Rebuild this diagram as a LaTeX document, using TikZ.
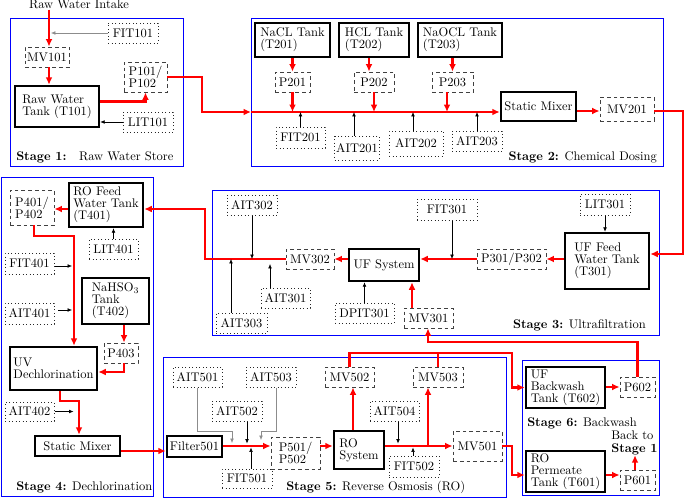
\documentclass[tikz,border=0pt]{standalone}
\usetikzlibrary{arrows.meta,calc}
\newcommand\mybox[7]{\node[#2, minimum width={0.8pt*(#5-#3)}, minimum height={0.8pt*(#6-#4)}] (#1) at ({(#3+#5)/2},{(#4+#6)/2}) {#7};}
\begin{document}
\begin{tikzpicture}[x=0.8pt,y=-0.8pt,
  stagebox/.style={draw=blue, line width=0.8pt},
  tank/.style={draw, line width=2pt, inner sep=1pt, align=left, font=\fontsize{10}{9.6}\selectfont},
  act/.style={draw=black!75, line width=0.65pt, dash pattern=on 3pt off 2.4pt, inner sep=1pt, align=left, font=\fontsize{10}{9.6}\selectfont},
  sens/.style={draw=black!85, line width=0.8pt, dotted, inner sep=1pt},
  flow/.style={draw=red, line width=2pt, -{Latex[length=6pt,width=5.5pt]}},
  flowline/.style={draw=red, line width=2pt},
  sig/.style={draw=black, line width=0.5pt, -{Latex[length=3.5pt,width=3pt]}},
  gsig/.style={sig, draw=black!45},
  lbl/.style={inner sep=0pt},
]
\useasboundingbox (0,0) rectangle (685,499);
% stage frames
\draw[stagebox] (10,18) rectangle (183,166);
\draw[stagebox] (251,18) rectangle (663,166);
\draw[stagebox] (212,190) rectangle (659,335);
\draw[stagebox] (1,177) rectangle (153,496);
\draw[stagebox] (163,357) rectangle (506,497);
\draw[stagebox] (522,360) rectangle (659,495);

% Stage 1
\node[lbl, anchor=base] (intake) at (79,9) {Raw Water Intake};
\mybox{FIT101}{sens}{108}{23}{158}{43}{FIT101}
\mybox{MV101}{act}{25}{47}{69}{67}{MV101}
\mybox{T101}{tank}{15}{86}{99}{127}{Raw Water\\Tank (T101)}
\mybox{P101}{act}{124}{62}{167}{92}{P101/\\P102}
\mybox{LIT101}{sens}{123}{112}{173}{132}{LIT101}
\node[lbl, anchor=base west] (s1) at (16,160) {\textbf{Stage 1:}\quad Raw Water Store};

% Stage 2
\mybox{T201}{tank}{255}{23}{330}{57}{NaCL Tank\\(T201)}
\mybox{T202}{tank}{339}{23}{409}{57}{HCL Tank\\(T202)}
\mybox{T203}{tank}{418}{23}{502}{57}{NaOCL Tank\\(T203)}
\mybox{P201}{act}{275}{72}{310}{92}{P201}
\mybox{P202}{act}{354}{72}{394}{92}{P202}
\mybox{P203}{act}{432}{72}{473}{92}{P203}
\mybox{SM2}{tank}{501}{92}{576}{121}{Static Mixer}
\mybox{MV201}{act}{600}{97}{654}{121}{MV201}
\mybox{FIT201}{sens}{276}{127}{325}{148}{FIT201}
\mybox{AIT201}{sens}{335}{136}{379}{160}{AIT201}
\mybox{AIT202}{sens}{389}{131}{443}{156}{AIT202}
\mybox{AIT203}{sens}{452}{131}{502}{151}{AIT203}
\node[lbl, anchor=base east] (s2) at (657,160) {\textbf{Stage 2:} Chemical Dosing};

% Stage 3
\mybox{T301}{tank}{565}{233}{649}{289}{UF Feed\\Water Tank\\(T301)}
\mybox{LIT301}{sens}{580}{194}{630}{215}{LIT301}
\mybox{P301}{act}{477}{249}{546}{269}{P301/P302}
\mybox{FIT301}{sens}{417}{199}{477}{220}{FIT301}
\mybox{UF}{tank}{349}{249}{419}{281}{UF System}
\mybox{MV302}{act}{286}{249}{334}{269}{MV302}
\mybox{AIT302}{sens}{227}{195}{277}{215}{AIT302}
\mybox{AIT301}{sens}{261}{288}{310}{308}{AIT301}
\mybox{AIT303}{sens}{216}{313}{267}{333}{AIT303}
\mybox{DPIT301}{sens}{335}{303}{394}{323}{DPIT301}
\mybox{MV301}{act}{404}{308}{453}{328}{MV301}
\node[lbl, anchor=base east] (s3) at (646,328) {\textbf{Stage 3:} Ultrafiltration};

% Stage 4
\mybox{T401}{tank}{69}{183}{143}{227}{RO Feed\\Water Tank\\(T401)}
\mybox{P401}{act}{10}{190}{54}{225}{P401/\\P402}
\mybox{LIT401}{sens}{89}{239}{138}{259}{LIT401}
\mybox{FIT401}{sens}{5}{253}{54}{274}{FIT401}
\mybox{AIT401}{sens}{5}{303}{54}{324}{AIT401}
\mybox{T402}{tank}{82}{278}{149}{324}{NaHSO$_3$\\Tank\\(T402)}
\mybox{P403}{act}{104}{343}{138}{363}{P403}
\mybox{UV}{tank}{10}{347}{97}{390}{UV\\Dechlorination}
\mybox{AIT402}{sens}{5}{402}{54}{421}{AIT402}
\mybox{SM4}{tank}{35}{436}{120}{456}{Static Mixer}
\node[lbl, anchor=base west] (s4) at (16,490) {\textbf{Stage 4:} Dechlorination};

% Stage 5
\mybox{F501}{tank, inner sep=0pt}{167}{436}{222}{457}{Filter501}
\mybox{P501}{act}{271}{437}{320}{469}{P501/\\P502}
\mybox{RO}{tank}{334}{431}{384}{469}{RO\\System}
\mybox{MV502}{act}{325}{367}{374}{387}{MV502}
\mybox{MV503}{act}{413}{367}{463}{387}{MV503}
\mybox{MV501}{act}{453}{431}{502}{461}{MV501}
\mybox{AIT501}{sens}{173}{367}{222}{387}{AIT501}
\mybox{AIT502}{sens}{212}{401}{262}{421}{AIT502}
\mybox{AIT503}{sens}{246}{367}{296}{387}{AIT503}
\mybox{FIT501}{sens}{222}{469}{272}{488}{FIT501}
\mybox{AIT504}{sens}{370}{401}{419}{421}{AIT504}
\mybox{FIT502}{sens}{389}{456}{439}{477}{FIT502}
\node[lbl, anchor=base west] (s5) at (286,490) {\textbf{Stage 5:} Reverse Osmosis (RO)};

% Stage 6
\mybox{T602}{tank}{526}{367}{605}{408}{UF\\Backwash\\Tank (T602)}
\mybox{P602}{act}{620}{377}{655}{397}{P602}
\node[lbl, anchor=base west] (s6) at (527,426) {\textbf{Stage 6:} Backwash};
\node[lbl, align=left, anchor=north west, font=\fontsize{10}{10}\selectfont] (back) at (611,431) {Back to\\\textbf{Stage 1}};
\mybox{T601}{tank}{526}{451}{605}{492}{RO\\Permeate\\Tank (T601)}
\mybox{P601}{act}{620}{470}{655}{490}{P601}

% ---------- connectors ----------
% Stage 1
\coordinate (c49) at (49,0);
\coordinate (c51) at (51,0);
\draw[flow] (intake.south -| c49) -- (MV101.north -| c49);
\draw[gsig] (FIT101.west) -- (FIT101.west -| c51);
\draw[flow] (MV101.south -| c49) -- (T101.north -| c49);
\coordinate (t101o) at ($(T101.east)+(0,-5)$);
\draw[flow] (t101o) -| (P101.south);
\draw[sig] (LIT101.west) -- (LIT101.west -| T101.east);
% Stage 1 -> 2
\coordinate (j1) at (202,112);
\coordinate (s2in) at (251,112);
\draw[flow] (P101.east) -| (j1) -- (s2in);
\draw[flow] (s2in) -- (SM2.west |- s2in);
% Stage 2
\draw[flow] (T201.south) -- (P201.north);
\draw[flow] (P201.south) -- (P201.south |- s2in);
\coordinate (c369) at (369,0);
\draw[flow] (T202.south -| c369) -- (P202.north -| c369);
\draw[flow] (P202.south) -- (P202.south |- s2in);
\draw[flow] (T203.south -| P203.north) -- (P203.north);
\coordinate (c447) at (447,0);
\draw[flow] (P203.south -| c447) -- (s2in -| c447);
\draw[sig] (FIT201.north) -- (FIT201.north |- s2in);
\coordinate (c354) at (354,0);
\draw[sig] (AIT201.north -| c354) -- (s2in -| c354);
\coordinate (c413) at (413,0);
\draw[sig] (AIT202.north -| c413) -- (s2in -| c413);
\draw[sig] (AIT203.north) -- (AIT203.north |- s2in);
\coordinate (s2m) at (0,111);
\draw[flow] (SM2.east |- s2m) -- (MV201.west |- s2m);
\coordinate (rx) at (683,254);
\draw[flow] (MV201.east |- s2m) -| (rx) -- (rx -| T301.east);
% Stage 3
\draw[flow] (T301.west |- P301.west) -- (P301.east);
\draw[sig] (LIT301.south) -- (LIT301.south |- T301.north);
\draw[flow] (P301.west) -- (P301.west -| UF.east);
\coordinate (c452) at (452,0);
\draw[sig] (FIT301.south -| c452) -- (P301.west -| c452);
\draw[flow] (UF.west |- MV302.east) -- (MV302.east);
\coordinate (j3) at (205,209);
\draw[flow] (MV302.west) -| (j3) -- (j3 -| T401.east);
\draw[sig] (AIT302.south) -- (AIT302.south |- MV302.west);
\coordinate (c270) at (270,264);
\draw[sig] (AIT301.north -| c270) -- (c270);
\coordinate (c231) at (231,0);
\draw[sig] (AIT303.north -| c231) -- (MV302.west -| c231);
\draw[sig] (DPIT301.north) -- (DPIT301.north |- UF.south);
\coordinate (c412) at (412,0);
\draw[flow] (MV301.north -| c412) -- (UF.south -| c412);
\coordinate (j6) at (428,342);
\draw[flow] (P602.north) |- (j6) -- (j6 |- MV301.south);
% Stage 4
\draw[flow] (T401.west |- j3) -- (P401.east |- j3);
\draw[sig] (LIT401.north) -- (LIT401.north |- T401.south);
\coordinate (j4a) at (34,236);
\coordinate (j4b) at (74,236);
\draw[flow] (P401.south -| j4a) -- (j4a) -- (j4b) -- (j4b |- UV.north);
\coordinate (c266) at (0,266);
\coordinate (c72) at (72,0);
\draw[sig] (FIT401.east |- c266) -- (c72 |- c266);
\coordinate (a401) at (58,310);
\draw[sig] (a401) -- (a401 -| c72);
\coordinate (c124) at (124,0);
\draw[flow] (T402.south -| c124) -- (P403.north -| c124);
\coordinate (j4c) at (124,372);
\draw[flow] (P403.south -| j4c) -- (j4c) -- (j4c -| UV.east);
\coordinate (j4d) at (60,401);
\coordinate (j4e) at (79,401);
\draw[flow] (UV.south -| j4d) -- (j4d) -- (j4e) -- (j4e |- SM4.north);
\draw[sig] (AIT402.east) -- ++(19,0);
\coordinate (c451) at (0,451);
\draw[flow] (SM4.east |- c451) -- (F501.west |- c451);
% Stage 5
\coordinate (m5) at (0,446);
\draw[flow] (F501.east |- m5) -- (P501.west |- m5);
\draw[flow] (P501.east |- m5) -- (RO.west |- m5);
\draw[flow] (RO.east |- m5) -- (MV501.west |- m5);
\coordinate (b5) at (428,446);
\draw[flow] (b5) -- (b5 |- MV503.south);
\coordinate (c353) at (353,0);
\draw[flow] (RO.north -| c353) -- (MV502.south -| c353);
\coordinate (j5c) at (232,431);
\draw[gsig] (AIT501.south) |- (j5c) -- ++(0,12);
\coordinate (c247) at (247,0);
\draw[sig] (AIT502.south -| c247) -- ++(0,22);
\coordinate (j5d) at (276,431);
\coordinate (j5e) at (261,431);
\draw[gsig] (AIT503.south -| j5d) -- (j5d) -- (j5e) -- ++(0,9);
\coordinate (c251) at (251,0);
\draw[sig] (FIT501.north -| c251) -- ++(0,-21);
\coordinate (c398) at (398,0);
\draw[sig] (AIT504.south -| c398) -- ++(0,22);
\coordinate (c413b) at (413,0);
\draw[sig] (FIT502.north -| c413b) -- ++(0,-8);
% Stage 5 -> 6
\coordinate (j5a) at (512,353);
\draw[flow] (MV502.north) |- (j5a) |- (T602.west);
\draw[flowline] (MV503.north) -- (MV503.north |- j5a);
\coordinate (j5b) at (512,446);
\coordinate (t601in) at ($(T601.west)+(0,3.5)$);
\draw[flow] (MV501.east |- m5) -- (j5b) |- (t601in);
% Stage 6
\draw[flow] (T602.east |- P602.west) -- (P602.west);
\coordinate (t601out) at ($(T601.east)+(0,3.5)$);
\draw[flow] (t601out) -- (t601out -| P601.west);
\coordinate (c635) at (635,0);
\draw[flow] (P601.north -| c635) -- (back.south -| c635);
\end{tikzpicture}
\end{document}
